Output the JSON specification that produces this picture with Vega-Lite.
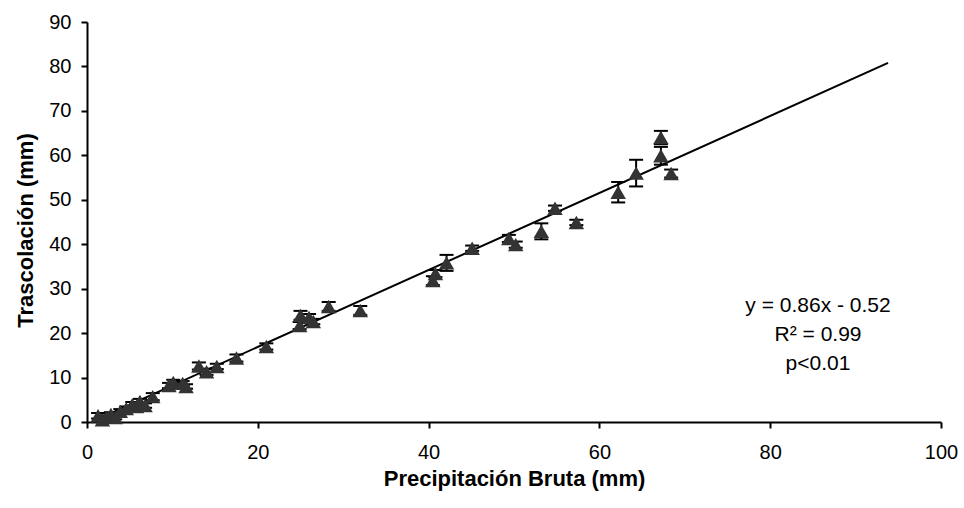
{
  "$schema": "https://vega.github.io/schema/vega-lite/v6.json",
  "width": 854,
  "height": 400,
  "autosize": {"type": "none"},
  "padding": {"left": 87, "top": 22, "right": 23, "bottom": 86},
  "background": "white",
  "config": {
    "view": {"stroke": null},
    "font": "Liberation Sans",
    "axis": {
      "grid": false,
      "domainColor": "black",
      "domainWidth": 2,
      "tickColor": "black",
      "tickWidth": 2,
      "tickSize": 6,
      "labelFont": "Liberation Sans",
      "labelFontSize": 20,
      "labelColor": "black",
      "labelFlush": false,
      "labelOverlap": false,
      "titleFont": "Liberation Sans",
      "titleFontSize": 22,
      "titleFontWeight": "bold",
      "titleColor": "black"
    },
    "axisX": {"labelPadding": 14, "titlePadding": 6},
    "axisY": {"labelPadding": 10, "titlePadding": 11, "titleY": 208}
  },
  "datasets": {
    "points": [
      {"x": 1.3, "y": 1.4, "lo": 0.8, "hi": 2.0},
      {"x": 1.8, "y": 0.5, "lo": 0.2, "hi": 0.8},
      {"x": 2.3, "y": 1.1, "lo": 0.7, "hi": 1.5},
      {"x": 2.8, "y": 1.7, "lo": 1.2, "hi": 2.2},
      {"x": 3.3, "y": 1.0, "lo": 0.6, "hi": 1.4},
      {"x": 3.9, "y": 2.4, "lo": 1.9, "hi": 2.9},
      {"x": 4.6, "y": 3.0, "lo": 2.5, "hi": 3.5},
      {"x": 5.3, "y": 3.9, "lo": 3.3, "hi": 4.5},
      {"x": 5.8, "y": 3.5, "lo": 3.0, "hi": 4.0},
      {"x": 6.2, "y": 4.6, "lo": 4.0, "hi": 5.2},
      {"x": 6.8, "y": 3.7, "lo": 3.2, "hi": 4.2},
      {"x": 7.7, "y": 5.7, "lo": 4.9, "hi": 6.5},
      {"x": 9.6, "y": 8.2, "lo": 7.6, "hi": 8.8},
      {"x": 10.1, "y": 8.9, "lo": 8.3, "hi": 9.5},
      {"x": 11.2, "y": 8.7, "lo": 8.2, "hi": 9.2},
      {"x": 11.6, "y": 8.0, "lo": 7.5, "hi": 8.5},
      {"x": 13.1, "y": 12.6, "lo": 11.8, "hi": 13.4},
      {"x": 14.0, "y": 11.3, "lo": 10.6, "hi": 12.0},
      {"x": 15.2, "y": 12.5, "lo": 11.9, "hi": 13.1},
      {"x": 17.5, "y": 14.4, "lo": 13.6, "hi": 15.2},
      {"x": 21.0, "y": 17.0, "lo": 16.3, "hi": 17.7},
      {"x": 24.9, "y": 21.7, "lo": 20.9, "hi": 22.5},
      {"x": 25.0, "y": 24.0, "lo": 23.0, "hi": 25.0},
      {"x": 26.0, "y": 23.5, "lo": 22.7, "hi": 24.3},
      {"x": 26.5, "y": 22.6, "lo": 22.0, "hi": 23.2},
      {"x": 28.3, "y": 26.0, "lo": 25.0, "hi": 27.0},
      {"x": 32.0, "y": 25.1, "lo": 24.1, "hi": 26.1},
      {"x": 40.5, "y": 31.8, "lo": 30.8, "hi": 32.8},
      {"x": 40.8, "y": 33.4, "lo": 32.6, "hi": 34.2},
      {"x": 42.1, "y": 35.8, "lo": 34.0, "hi": 37.6},
      {"x": 45.1, "y": 39.1, "lo": 38.5, "hi": 39.7},
      {"x": 49.4, "y": 41.3, "lo": 40.5, "hi": 42.1},
      {"x": 50.2, "y": 39.9, "lo": 39.2, "hi": 40.6},
      {"x": 53.2, "y": 42.9, "lo": 41.1, "hi": 44.7},
      {"x": 54.8, "y": 48.1, "lo": 47.5, "hi": 48.7},
      {"x": 57.3, "y": 44.9, "lo": 44.3, "hi": 45.5},
      {"x": 62.2, "y": 51.7, "lo": 49.4, "hi": 54.0},
      {"x": 64.3, "y": 56.0, "lo": 53.0, "hi": 59.0},
      {"x": 67.2, "y": 59.9, "lo": 57.9, "hi": 61.9},
      {"x": 67.2, "y": 64.0, "lo": 62.5, "hi": 65.5},
      {"x": 68.4, "y": 55.9, "lo": 55.0, "hi": 56.8}
    ],
    "fit": [
      {"x": 1.2, "y": 0.6},
      {"x": 93.8, "y": 80.8}
    ]
  },
  "layer": [
    {
      "data": {"name": "fit"},
      "mark": {"type": "line", "color": "black", "strokeWidth": 2},
      "encoding": {
        "x": {
          "field": "x", "type": "quantitative",
          "scale": {"domain": [0, 100], "nice": false, "zero": true},
          "axis": {"title": "Precipitación Bruta (mm)", "values": [0, 20, 40, 60, 80, 100]}
        },
        "y": {
          "field": "y", "type": "quantitative",
          "scale": {"domain": [0, 90], "nice": false},
          "axis": {"title": "Trascolación (mm)", "values": [0, 10, 20, 30, 40, 50, 60, 70, 80, 90]}
        }
      }
    },
    {
      "data": {"name": "points"},
      "mark": {"type": "rule", "color": "black", "strokeWidth": 2},
      "encoding": {
        "x": {"field": "x", "type": "quantitative", "axis": {"title": "Precipitación Bruta (mm)", "values": [0, 20, 40, 60, 80, 100]}},
        "y": {"field": "lo", "type": "quantitative", "axis": {"title": "Trascolación (mm)", "values": [0, 10, 20, 30, 40, 50, 60, 70, 80, 90]}},
        "y2": {"field": "hi"}
      }
    },
    {
      "data": {"name": "points"},
      "mark": {"type": "tick", "orient": "horizontal", "color": "black", "size": 14, "thickness": 2, "opacity": 1},
      "encoding": {
        "x": {"field": "x", "type": "quantitative", "axis": {"title": "Precipitación Bruta (mm)", "values": [0, 20, 40, 60, 80, 100]}},
        "y": {"field": "lo", "type": "quantitative", "axis": {"title": "Trascolación (mm)", "values": [0, 10, 20, 30, 40, 50, 60, 70, 80, 90]}}
      }
    },
    {
      "data": {"name": "points"},
      "mark": {"type": "tick", "orient": "horizontal", "color": "black", "size": 14, "thickness": 2, "opacity": 1},
      "encoding": {
        "x": {"field": "x", "type": "quantitative", "axis": {"title": "Precipitación Bruta (mm)", "values": [0, 20, 40, 60, 80, 100]}},
        "y": {"field": "hi", "type": "quantitative", "axis": {"title": "Trascolación (mm)", "values": [0, 10, 20, 30, 40, 50, 60, 70, 80, 90]}}
      }
    },
    {
      "data": {"name": "points"},
      "mark": {"type": "point", "shape": "triangle-up", "filled": true, "color": "#333333", "opacity": 1, "size": 240},
      "encoding": {
        "x": {"field": "x", "type": "quantitative", "axis": {"title": "Precipitación Bruta (mm)", "values": [0, 20, 40, 60, 80, 100]}},
        "y": {"field": "y", "type": "quantitative", "axis": {"title": "Trascolación (mm)", "values": [0, 10, 20, 30, 40, 50, 60, 70, 80, 90]}}
      }
    },
    {
      "data": {"values": [{}]},
      "mark": {"type": "text", "align": "center", "baseline": "alphabetic", "fontSize": 21, "lineHeight": 29, "color": "black", "font": "Liberation Sans"},
      "encoding": {
        "x": {"datum": 85.6, "type": "quantitative", "axis": {"title": "Precipitación Bruta (mm)", "values": [0, 20, 40, 60, 80, 100]}},
        "y": {"datum": 24.75, "type": "quantitative", "axis": {"title": "Trascolación (mm)", "values": [0, 10, 20, 30, 40, 50, 60, 70, 80, 90]}},
        "text": {"value": ["y = 0.86x - 0.52", "R² = 0.99", "p<0.01"]}
      }
    }
  ]
}
